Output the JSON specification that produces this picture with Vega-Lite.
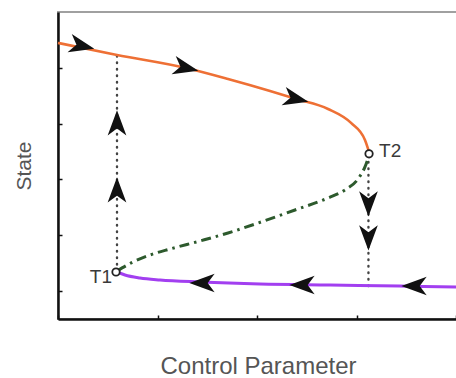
{
  "$schema": "https://vega.github.io/schema/vega-lite/v6.json",
  "autosize": "none",
  "width": 400,
  "height": 307,
  "padding": {"left": 58, "top": 12, "right": 0, "bottom": 59},
  "background": "white",
  "config": {
    "view": {"stroke": "#a0a0a0", "strokeWidth": 2},
    "axis": {
      "labels": false,
      "grid": false,
      "domainColor": "#111111",
      "domainWidth": 2.5,
      "tickColor": "#111111",
      "tickWidth": 1.5,
      "tickSize": -4,
      "titleFont": "Liberation Sans",
      "titleFontWeight": "normal",
      "titleColor": "#555555"
    }
  },
  "datasets": {
    "curves": [
      {"branch": "upper", "x": 0.0, "y": 4.446},
      {"branch": "upper", "x": 0.593, "y": 4.231},
      {"branch": "upper", "x": 1.286, "y": 3.998},
      {"branch": "upper", "x": 1.709, "y": 3.801},
      {"branch": "upper", "x": 2.131, "y": 3.586},
      {"branch": "upper", "x": 2.392, "y": 3.443},
      {"branch": "upper", "x": 2.714, "y": 3.263},
      {"branch": "upper", "x": 2.945, "y": 3.013},
      {"branch": "upper", "x": 3.085, "y": 2.708},
      {"branch": "upper", "x": 3.13, "y": 2.47},
      {"branch": "middle", "x": 0.593, "y": 0.36},
      {"branch": "middle", "x": 0.754, "y": 0.522},
      {"branch": "middle", "x": 0.925, "y": 0.647},
      {"branch": "middle", "x": 1.126, "y": 0.754},
      {"branch": "middle", "x": 1.427, "y": 0.898},
      {"branch": "middle", "x": 1.709, "y": 1.041},
      {"branch": "middle", "x": 2.04, "y": 1.238},
      {"branch": "middle", "x": 2.382, "y": 1.453},
      {"branch": "middle", "x": 2.714, "y": 1.668},
      {"branch": "middle", "x": 2.884, "y": 1.812},
      {"branch": "middle", "x": 3.015, "y": 2.009},
      {"branch": "middle", "x": 3.085, "y": 2.224},
      {"branch": "middle", "x": 3.13, "y": 2.45},
      {"branch": "lower", "x": 0.593, "y": 0.342},
      {"branch": "lower", "x": 0.673, "y": 0.289},
      {"branch": "lower", "x": 0.824, "y": 0.235},
      {"branch": "lower", "x": 1.025, "y": 0.199},
      {"branch": "lower", "x": 1.427, "y": 0.163},
      {"branch": "lower", "x": 2.03, "y": 0.127},
      {"branch": "lower", "x": 2.734, "y": 0.109},
      {"branch": "lower", "x": 3.437, "y": 0.091},
      {"branch": "lower", "x": 4.02, "y": 0.072}
    ],
    "jumps": [
      {"jump": "up", "x": 0.593, "y": 0.36},
      {"jump": "up", "x": 0.593, "y": 4.231},
      {"jump": "down", "x": 3.12, "y": 2.44},
      {"jump": "down", "x": 3.12, "y": 0.091}
    ],
    "arrows": [
      {"dir": "right", "x": 0.241, "y": 4.392},
      {"dir": "right", "x": 1.286, "y": 3.998},
      {"dir": "right", "x": 2.392, "y": 3.443},
      {"dir": "up", "x": 0.593, "y": 3.013},
      {"dir": "up", "x": 0.593, "y": 1.812},
      {"dir": "down", "x": 3.12, "y": 1.561},
      {"dir": "down", "x": 3.12, "y": 0.952},
      {"dir": "left", "x": 1.447, "y": 0.145},
      {"dir": "left", "x": 2.452, "y": 0.109},
      {"dir": "left", "x": 3.578, "y": 0.091}
    ],
    "turning": [
      {"name": "T1", "x": 0.583, "y": 0.342},
      {"name": "T2", "x": 3.126, "y": 2.46}
    ]
  },
  "encoding": {
    "x": {"field": "x", "type": "quantitative", "scale": {"domain": [0, 4.02], "nice": false, "zero": false},
      "axis": {"values": [0, 1, 2, 3, 4], "title": "Control Parameter", "titleFontSize": 24, "titlePadding": 35}},
    "y": {"field": "y", "type": "quantitative", "scale": {"domain": [-0.5, 5], "nice": false, "zero": false},
      "axis": {"values": [0, 1, 2, 3, 4], "title": "State", "titleFontSize": 21, "titlePadding": 23}}
  },
  "layer": [
    {
      "data": {"name": "jumps"},
      "mark": {"type": "line", "color": "#444444", "strokeWidth": 2.4, "strokeDash": [0.5, 6], "strokeCap": "round"},
      "encoding": {"detail": {"field": "jump"}, "order": {"field": "y", "type": "quantitative"}}
    },
    {
      "data": {"name": "curves"},
      "transform": [{"filter": "datum.branch === 'upper'"}],
      "mark": {"type": "line", "color": "#ee7035", "strokeWidth": 2.6, "interpolate": "monotone"}
    },
    {
      "data": {"name": "curves"},
      "transform": [{"filter": "datum.branch === 'middle'"}],
      "mark": {"type": "line", "color": "#2d5a2d", "strokeWidth": 3, "strokeDash": [10, 5, 2.5, 5], "interpolate": "monotone"}
    },
    {
      "data": {"name": "curves"},
      "transform": [{"filter": "datum.branch === 'lower'"}],
      "mark": {"type": "line", "color": "#a23ff0", "strokeWidth": 3, "interpolate": "monotone"}
    },
    {
      "data": {"name": "arrows"},
      "transform": [{"filter": "datum.dir === 'right'"}],
      "mark": {"type": "point", "shape": "M1,0L-1,-0.74L-0.45,0L-1,0.74Z", "size": 640, "filled": true, "color": "#111111", "opacity": 1, "angle": 13}
    },
    {
      "data": {"name": "arrows"},
      "transform": [{"filter": "datum.dir === 'up'"}],
      "mark": {"type": "point", "shape": "M1,0L-1,-0.74L-0.45,0L-1,0.74Z", "size": 640, "filled": true, "color": "#111111", "opacity": 1, "angle": 270}
    },
    {
      "data": {"name": "arrows"},
      "transform": [{"filter": "datum.dir === 'down'"}],
      "mark": {"type": "point", "shape": "M1,0L-1,-0.74L-0.45,0L-1,0.74Z", "size": 640, "filled": true, "color": "#111111", "opacity": 1, "angle": 90}
    },
    {
      "data": {"name": "arrows"},
      "transform": [{"filter": "datum.dir === 'left'"}],
      "mark": {"type": "point", "shape": "M1,0L-1,-0.74L-0.45,0L-1,0.74Z", "size": 640, "filled": true, "color": "#111111", "opacity": 1, "angle": 180}
    },
    {
      "data": {"name": "turning"},
      "mark": {"type": "point", "shape": "circle", "size": 55, "filled": false, "fill": "white", "fillOpacity": 1, "stroke": "#222222", "strokeWidth": 1.8, "opacity": 1}
    },
    {
      "data": {"name": "turning"},
      "transform": [{"filter": "datum.name === 'T1'"}],
      "mark": {"type": "text", "align": "right", "baseline": "middle", "dx": -4, "dy": 5, "font": "Liberation Sans", "fontSize": 19, "color": "#3a3a3a"},
      "encoding": {"text": {"field": "name"}}
    },
    {
      "data": {"name": "turning"},
      "transform": [{"filter": "datum.name === 'T2'"}],
      "mark": {"type": "text", "align": "left", "baseline": "middle", "dx": 10, "dy": -3, "font": "Liberation Sans", "fontSize": 19, "color": "#3a3a3a"},
      "encoding": {"text": {"field": "name"}}
    }
  ]
}
